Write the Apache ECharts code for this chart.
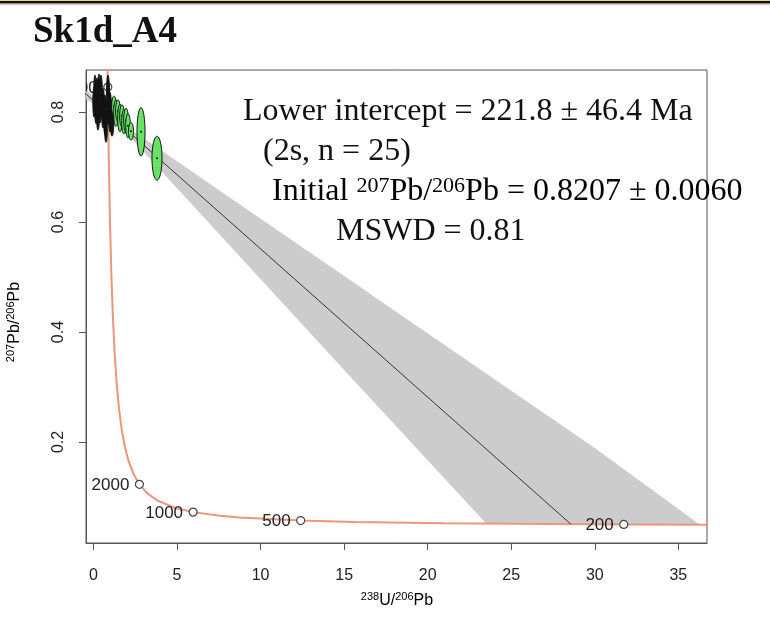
<!DOCTYPE html>
<html>
	<head>
		<meta charset="utf-8">
		<title>Sk1d_A4</title>
		<style>
			html, body { margin: 0; padding: 0; background: #fff; }
			#main { width: 770px; height: 627px; }
		</style>
	</head>
	<body>
		<div id="main"></div>
		<script type="text/javascript" src="https://cdn.jsdelivr.net/npm/echarts@6/dist/echarts.min.js"></script>
		<script>
			// concordia curve (age in Ma, 238U/206Pb, 207Pb/206Pb)
			var concordiaAge = [170, 200, 250, 300, 400, 500, 700, 800, 1000, 1200, 1500, 1750, 2000, 2250, 2500, 2750, 3000, 3250, 3500, 3750, 4000, 4250, 4500, 4750, 5000, 5100];
			var concordiaX = [37.423, 31.735, 25.289, 20.992, 15.621, 12.399, 8.7182, 7.5684, 5.9593, 4.8875, 3.8170, 3.2063, 2.7490, 2.3941, 2.1108, 1.8796, 1.6875, 1.5254, 1.3869, 1.2673, 1.1630, 1.0714, 0.9902, 0.9180, 0.8533, 0.8293];
			var concordiaY = [0.04947, 0.05011, 0.05120, 0.05233, 0.05470, 0.05722, 0.06276, 0.06580, 0.07250, 0.08012, 0.09360, 0.10706, 0.12299, 0.14186, 0.16426, 0.19091, 0.22266, 0.26055, 0.30583, 0.36003, 0.42501, 0.50299, 0.59671, 0.70947, 0.84527, 0.90712];
			var labelAges = [200, 500, 1000, 2000, 5000];

			// discordia (regression line) and its error envelope
			var discordiaX = [-0.5, 28.567];
			var discordiaY = [0.8342, 0.0506];
			var bandX = [-0.5, 0, 1, 2, 4, 8, 15, 23.5, 30, 36.3, 30, 25.289, 23.5, 15, 8, 4, 2, 1, 0, -0.5];
			var bandY = [0.8436, 0.8271, 0.7957, 0.7732, 0.7313, 0.6478, 0.5017, 0.3245, 0.1889, 0.0497, 0.0503, 0.0512, 0.0516, 0.3309, 0.5623, 0.6945, 0.7604, 0.7917, 0.8143, 0.8248];

			// data ellipses: centre and semi-axes (2s)
			var ellipseX = [0.090, 0.209, 0.329, 0.389, 0.150, 0.569, 0.688, 0.868, 0.987, 1.107, 1.227, 1.346, 1.466, 1.586, 1.706, 1.825, 1.945, 2.065, 2.244, 2.843, 3.800, 0.030, 0.449, 0.748, 0.269];
			var ellipseY = [0.831, 0.822, 0.836, 0.813, 0.804, 0.807, 0.795, 0.822, 0.800, 0.789, 0.811, 0.798, 0.802, 0.789, 0.793, 0.782, 0.785, 0.775, 0.765, 0.764, 0.716, 0.818, 0.831, 0.767, 0.789];
			var ellipseRx = [0.08, 0.09, 0.08, 0.09, 0.08, 0.09, 0.09, 0.10, 0.09, 0.12, 0.14, 0.14, 0.14, 0.14, 0.14, 0.14, 0.14, 0.14, 0.15, 0.24, 0.30, 0.07, 0.08, 0.08, 0.08];
			var ellipseRy = [0.036, 0.040, 0.033, 0.033, 0.025, 0.036, 0.036, 0.045, 0.036, 0.033, 0.018, 0.024, 0.020, 0.025, 0.020, 0.022, 0.022, 0.022, 0.016, 0.044, 0.040, 0.027, 0.036, 0.022, 0.022];

			var xTicks = [0, 5, 10, 15, 20, 25, 30, 35];
			var yTicks = [0.2, 0.4, 0.6, 0.8];

			var sans = 'Liberation Sans, Arial, sans-serif';
			var serif = 'Liberation Serif, Times New Roman, serif';

			var concordiaData = concordiaX.map(function(x, i) { return [x, concordiaY[i]]; });
			var markerData = labelAges.map(function(a) {
				var i = concordiaAge.indexOf(a);
				return [concordiaX[i], concordiaY[i], a];
			});
			var ellipseData = ellipseX.map(function(x, i) { return [x, ellipseY[i], ellipseRx[i], ellipseRy[i]]; });

			var myChart = echarts.init(document.getElementById('main'));

			var option = {
				animation: false,
				backgroundColor: '#fff',
				grid: {
					left: 86, right: 63, top: 70, bottom: 84,
					show: true, borderColor: '#555', borderWidth: 1
				},
				xAxis: {
					type: 'value', min: -0.449, max: 36.716,
					splitLine: { show: false },
					axisLine: { show: true, onZero: false, lineStyle: { color: '#555' } },
					axisTick: { show: true, length: 7, customValues: xTicks, lineStyle: { color: '#555' } },
					axisLabel: { customValues: xTicks, margin: 25, fontSize: 16, fontFamily: sans, color: '#222' }
				},
				yAxis: {
					type: 'value', min: 0.01636, max: 0.8764,
					splitLine: { show: false },
					axisLine: { show: true, onZero: false, lineStyle: { color: '#555' } },
					axisTick: { show: true, length: 7, customValues: yTicks, lineStyle: { color: '#555' } },
					axisLabel: { customValues: yTicks, rotate: 90, margin: 19, fontSize: 16, fontFamily: sans, color: '#222' }
				},
				graphic: [
					// slide border on top
					{ type: 'rect', left: 0, top: 0, shape: { width: 770, height: 1 }, style: { fill: '#e6dc78' } },
					{ type: 'rect', left: 0, top: 1, shape: { width: 770, height: 2.5 }, style: { fill: '#111' } },
					{ type: 'rect', left: 0, top: 3.5, shape: { width: 770, height: 1 }, style: { fill: '#999' } },
					{ type: 'text', x: 33, y: 32, style: { text: 'Sk1d_A4', font: 'bold 37px ' + serif, fill: '#111', verticalAlign: 'middle' } },
					// fit results
					{ type: 'text', x: 243, y: 112, z: 10, style: { text: 'Lower intercept = 221.8 ± 46.4 Ma', font: '32px ' + serif, fill: '#111', verticalAlign: 'middle' } },
					{ type: 'text', x: 263, y: 152, z: 10, style: { text: '(2s, n = 25)', font: '32px ' + serif, fill: '#111', verticalAlign: 'middle' } },
					{
						type: 'text', x: 272, y: 192, z: 10,
						style: {
							text: '{t|Initial }{s|207}{t|Pb/}{s|206}{t|Pb = 0.8207 ± 0.0060}',
							verticalAlign: 'middle',
							rich: {
								t: { fontSize: 32, fontFamily: serif, color: '#111', lineHeight: 34 },
								s: { fontSize: 22, fontFamily: serif, color: '#111', lineHeight: 22, verticalAlign: 'top' }
							}
						}
					},
					{ type: 'text', x: 336, y: 232, z: 10, style: { text: 'MSWD = 0.81', font: '32px ' + serif, fill: '#111', verticalAlign: 'middle' } },
					// axis titles
					{
						type: 'text', x: 397, y: 601,
						style: {
							text: '{s|238}{t|U/}{s|206}{t|Pb}',
							align: 'center', verticalAlign: 'middle',
							rich: {
								t: { fontSize: 16, fontFamily: sans, color: '#222', lineHeight: 20 },
								s: { fontSize: 11, fontFamily: sans, color: '#222', lineHeight: 12, verticalAlign: 'top' }
							}
						}
					},
					{
						type: 'text', x: 15, y: 322, rotation: Math.PI / 2,
						style: {
							text: '{s|207}{t|Pb/}{s|206}{t|Pb}',
							align: 'center', verticalAlign: 'middle',
							rich: {
								t: { fontSize: 16, fontFamily: sans, color: '#222', lineHeight: 20 },
								s: { fontSize: 11, fontFamily: sans, color: '#222', lineHeight: 12, verticalAlign: 'top' }
							}
						}
					}
				],
				series: [{
					// error envelope
					type: 'custom',
					clip: true,
					z: 1,
					data: [[0, 0.5]],
					renderItem: function(params, api) {
						var pts = bandX.map(function(x, i) { return api.coord([x, bandY[i]]); });
						return { type: 'polygon', shape: { points: pts }, style: { fill: '#cccccc' } };
					}
				}, {
					type: 'line',
					z: 2,
					data: concordiaData,
					showSymbol: false,
					lineStyle: { color: '#E9967A', width: 2 }
				}, {
					type: 'line',
					z: 3,
					data: discordiaX.map(function(x, i) { return [x, discordiaY[i]]; }),
					showSymbol: false,
					lineStyle: { color: '#333', width: 1 }
				}, {
					type: 'scatter',
					z: 4,
					data: markerData,
					symbol: 'circle',
					symbolSize: 8,
					itemStyle: { color: '#fff', borderColor: '#444', borderWidth: 1.2, opacity: 1 }
				}, {
					// age labels, clipped by the plot box
					type: 'custom',
					clip: true,
					z: 5,
					data: markerData,
					renderItem: function(params, api) {
						var p = api.coord([api.value(0), api.value(1)]);
						return {
							type: 'text',
							style: {
								text: String(api.value(2)), x: p[0] - 10, y: p[1] + 1,
								align: 'right', verticalAlign: 'middle',
								font: '17px ' + sans, fill: '#222'
							}
						};
					}
				}, {
					// data ellipses
					type: 'custom',
					clip: true,
					z: 6,
					data: ellipseData,
					renderItem: function(params, api) {
						var cx = api.value(0), cy = api.value(1), rx = api.value(2), ry = api.value(3);
						var pts = [];
						for (var k = 0; k < 48; k++) {
							var t = Math.PI * 2 * k / 48;
							pts.push(api.coord([cx + rx * Math.cos(t), cy + ry * Math.sin(t)]));
						}
						var c = api.coord([cx, cy]);
						return {
							type: 'group',
							children: [{
								type: 'polygon',
								shape: { points: pts },
								style: { fill: cx < 1.15 ? '#151515' : '#66e266', stroke: '#111', lineWidth: 1 }
							}, {
								type: 'circle',
								shape: { cx: c[0], cy: c[1], r: 1 },
								style: { fill: '#111' }
							}]
						};
					}
				}]
			};
			myChart.setOption(option);
		</script>
	</body>
</html>
